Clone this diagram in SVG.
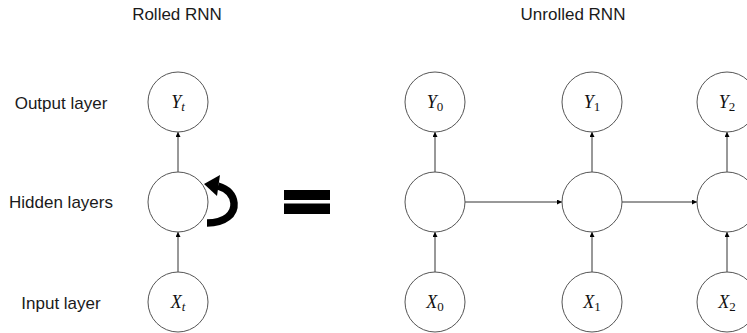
<svg xmlns="http://www.w3.org/2000/svg" width="747" height="333" viewBox="0 0 747 333">
  <defs>
    <marker id="arrow" viewBox="0 0 10 10" refX="10" refY="5" markerWidth="5" markerHeight="5" orient="auto" markerUnits="userSpaceOnUse">
      <path d="M0,0 L10,5 L0,10 z" fill="#000"/>
    </marker>
    <style>
      .node { fill: #fff; stroke: #555; stroke-width: 1; }
      .label { font-family: "Liberation Sans", Arial, sans-serif; font-size: 17px; fill: #1a1a1a; text-anchor: middle; }
      .math { font-family: "Liberation Serif", "Times New Roman", serif; font-size: 18px; font-style: italic; fill: #111; text-anchor: middle; }
      .sub { font-size: 13px; }
      .num { font-style: normal; }
      .edge { stroke: #333; stroke-width: 1; fill: none; marker-end: url(#arrow); }
    </style>
  </defs>

  <!-- titles -->
  <text class="label" x="177" y="20">Rolled RNN</text>
  <text class="label" x="573" y="20">Unrolled RNN</text>

  <!-- row labels -->
  <text class="label" x="61" y="109">Output layer</text>
  <text class="label" x="61" y="208">Hidden layers</text>
  <text class="label" x="61" y="309">Input layer</text>

  <!-- connectors -->
  <g id="connectors">
    <line class="edge" x1="178" y1="172" x2="178" y2="132"/>
    <line class="edge" x1="178" y1="272" x2="178" y2="232"/>
    <line class="edge" x1="435" y1="172" x2="435" y2="132"/>
    <line class="edge" x1="435" y1="272" x2="435" y2="232"/>
    <line class="edge" x1="592" y1="172" x2="592" y2="132"/>
    <line class="edge" x1="592" y1="272" x2="592" y2="232"/>
    <line class="edge" x1="727" y1="172" x2="727" y2="132"/>
    <line class="edge" x1="727" y1="272" x2="727" y2="232"/>
    <line class="edge" x1="465" y1="202" x2="562" y2="202"/>
    <line class="edge" x1="622" y1="202" x2="697" y2="202"/>
  </g>

  <!-- rolled network -->
  <g id="rolled-y">
    <circle class="node" cx="178" cy="102" r="30"/>
    <text class="math" x="178" y="108">Y<tspan class="sub" dy="3">t</tspan></text>
  </g>
  <g id="rolled-h">
    <circle class="node" cx="178" cy="202" r="30"/>
  </g>
  <g id="rolled-x">
    <circle class="node" cx="178" cy="302" r="30"/>
    <text class="math" x="178" y="308">X<tspan class="sub" dy="3">t</tspan></text>
  </g>

  <!-- recurrent loop -->
  <g id="loop">
    <path d="M207,223 C225,223 235,214 234,203 C233,194 228,189 218,186" fill="none" stroke="#000" stroke-width="7.5"/>
    <polygon points="204,184 220,175 217,196" fill="#000"/>
  </g>

  <!-- equals sign -->
  <g id="equals">
    <rect x="284" y="190" width="46" height="10" fill="#000"/>
    <rect x="284" y="203.5" width="46" height="10.5" fill="#000"/>
  </g>

  <!-- unrolled network, step 0 -->
  <g id="y0">
    <circle class="node" cx="435" cy="102" r="30"/>
    <text class="math" x="435" y="108">Y<tspan class="sub num" dy="3">0</tspan></text>
  </g>
  <g id="h0">
    <circle class="node" cx="435" cy="202" r="30"/>
  </g>
  <g id="x0">
    <circle class="node" cx="435" cy="302" r="30"/>
    <text class="math" x="435" y="308">X<tspan class="sub num" dy="3">0</tspan></text>
  </g>

  <!-- step 1 -->
  <g id="y1">
    <circle class="node" cx="592" cy="102" r="30"/>
    <text class="math" x="592" y="108">Y<tspan class="sub num" dy="3">1</tspan></text>
  </g>
  <g id="h1">
    <circle class="node" cx="592" cy="202" r="30"/>
  </g>
  <g id="x1">
    <circle class="node" cx="592" cy="302" r="30"/>
    <text class="math" x="592" y="308">X<tspan class="sub num" dy="3">1</tspan></text>
  </g>

  <!-- step 2 -->
  <g id="y2">
    <circle class="node" cx="727" cy="102" r="30"/>
    <text class="math" x="727" y="108">Y<tspan class="sub num" dy="3">2</tspan></text>
  </g>
  <g id="h2">
    <circle class="node" cx="727" cy="202" r="30"/>
  </g>
  <g id="x2">
    <circle class="node" cx="727" cy="302" r="30"/>
    <text class="math" x="727" y="308">X<tspan class="sub num" dy="3">2</tspan></text>
  </g>
</svg>
